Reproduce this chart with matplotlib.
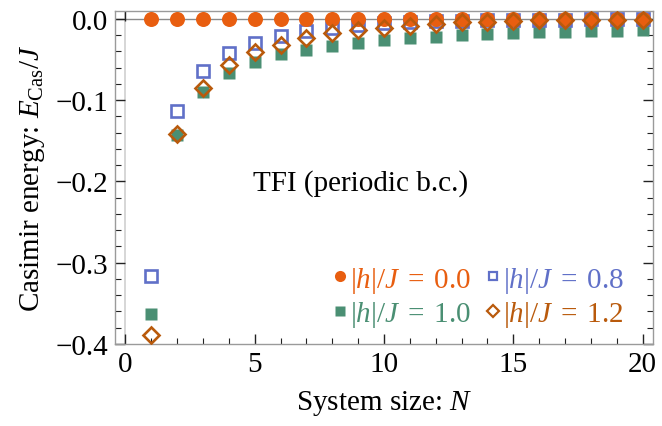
import matplotlib
matplotlib.use("Agg")
import matplotlib.pyplot as plt
from matplotlib.ticker import MultipleLocator, FuncFormatter
from matplotlib.lines import Line2D

plt.rcParams['font.family'] = ['Liberation Serif', 'DejaVu Serif']
plt.rcParams['mathtext.fontset'] = 'custom'
plt.rcParams['mathtext.rm'] = 'Liberation Serif'
plt.rcParams['mathtext.it'] = 'Liberation Serif:italic'
plt.rcParams['mathtext.bf'] = 'Liberation Serif:bold'

# ---- data ----
N = list(range(1, 21))
e_h00 = [0.0] * 20
e_h08 = [-0.316, -0.113, -0.064, -0.042, -0.0294, -0.0213, -0.0151, -0.0107, -0.0074, -0.0053,
         -0.0040, -0.0030, -0.0023, -0.0017, -0.0013, -0.0010, -0.0008, -0.0006, -0.0005, -0.0004]
e_h10 = [-0.363, -0.143, -0.0896, -0.0667, -0.0524, -0.043, -0.0377, -0.033, -0.0294, -0.0264,
         -0.0238, -0.0224, -0.0200, -0.0186, -0.0176, -0.0165, -0.0160, -0.0152, -0.0143, -0.0141]
e_h12 = [-0.389, -0.142, -0.085, -0.057, -0.041, -0.0315, -0.0237, -0.0176, -0.0139, -0.0117,
         -0.0082, -0.0061, -0.0041, -0.0033, -0.0025, -0.0018, -0.0014, -0.0011, -0.0009, -0.0007]
labels = [r'$|h|/J\;=\;0.0$', r'$|h|/J\;=\;0.8$', r'$|h|/J\;=\;1.0$', r'$|h|/J\;=\;1.2$']

c00 = '#E85E10'
c08 = '#6070C8'
c10 = '#4A8F73'
c12 = '#B95A0C'

FS = 21

fig = plt.figure(figsize=(6.62, 4.27), dpi=100)
ax = fig.add_axes([115/662, 1-345/427, 538/662, 333/427])

ax.axhline(0, color='#8a8a8a', lw=1.0, zorder=1)
ax.axvline(0, color='#d0d0d0', lw=1.2, zorder=1)

l10, = ax.plot(N, e_h10, 's', ms=8.6, mfc=c10, mec='none', ls='none', zorder=3)
l08, = ax.plot(N, e_h08, 's', ms=8.3, mfc='none', mec=c08, mew=1.9, ls='none', zorder=4)
l00, = ax.plot(N, e_h00, 'o', ms=10.8, mfc=c00, mec='none', ls='none', zorder=5)
l12, = ax.plot(N, e_h12, 'D', ms=8.2, mfc='none', mec=c12, mew=1.9, ls='none', zorder=6)

ax.set_xlim(-0.4, 20.4)
ax.set_ylim(-0.4, 0.0098)

ax.xaxis.set_major_locator(MultipleLocator(5))
ax.xaxis.set_minor_locator(MultipleLocator(1))
ax.yaxis.set_major_locator(MultipleLocator(0.1))
ax.yaxis.set_minor_locator(MultipleLocator(0.02))
ax.yaxis.set_major_formatter(FuncFormatter(
    lambda v, p: ('%.1f' % v).replace('-', '\u2212') if abs(v) > 1e-9 else '0.0'))

ax.tick_params(which='both', direction='in', top=True, right=True, color='#222222',
               labelsize=FS, zorder=10)
ax.tick_params(which='major', length=7, width=1.0, pad=5)
ax.tick_params(which='minor', length=4, width=0.8)
for s in ax.spines.values():
    s.set_color('#9a9a9a')
    s.set_linewidth(1.0)

ax.set_xlabel(r'System size: $N$', fontsize=FS, labelpad=8)
ax.set_ylabel(r'Casimir energy: $E_{\mathrm{Cas}}/J$', fontsize=FS, labelpad=6)

ax.text(9.1, -0.201, 'TFI (periodic b.c.)', fontsize=FS, ha='center', va='center')

handles = [Line2D([], [], marker='o', ms=8, mfc=c00, mec='none', ls='none'),
           Line2D([], [], marker='s', ms=6.5, mfc=c10, mec='none', ls='none'),
           Line2D([], [], marker='s', ms=6.0, mfc='none', mec=c08, mew=1.6, ls='none'),
           Line2D([], [], marker='D', ms=6.0, mfc='none', mec=c12, mew=1.6, ls='none')]
leg = ax.legend(handles, [labels[0], labels[2], labels[1], labels[3]], ncol=2,
                loc='lower right', bbox_to_anchor=(0.947, 0.045), frameon=False,
                fontsize=FS, handlelength=0.5, handletextpad=0.1, columnspacing=0.5,
                labelspacing=0.15, borderpad=0, borderaxespad=0,
                labelcolor=[c00, c10, c08, c12])

fig.savefig('out.png', dpi=100)
